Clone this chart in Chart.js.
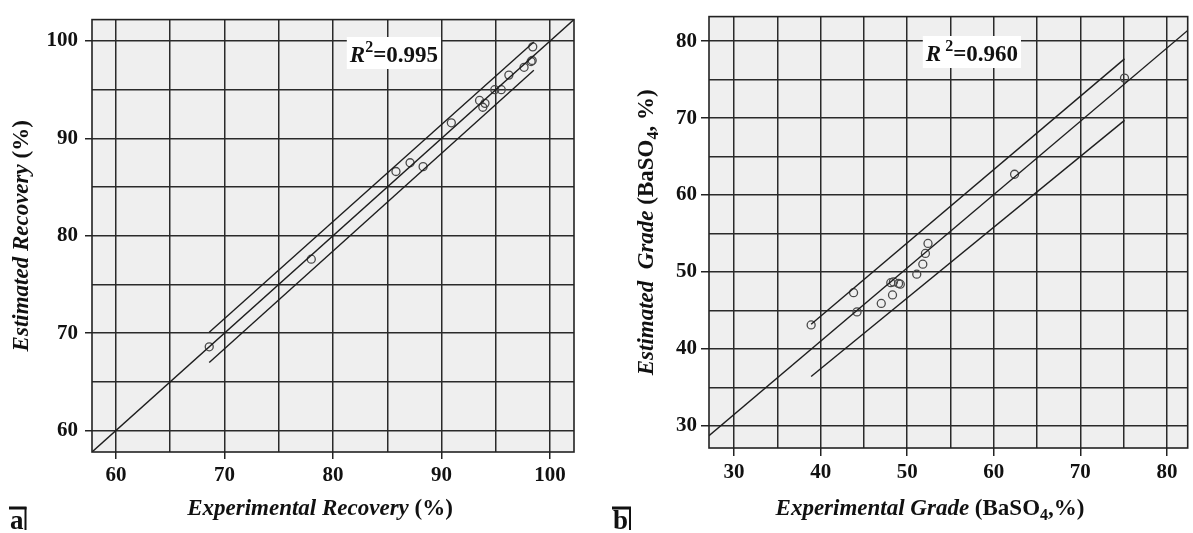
<!DOCTYPE html>
<html>
<head>
<meta charset="utf-8">
<script src="https://cdn.jsdelivr.net/npm/chart.js@4.4.1/dist/chart.umd.min.js"></script>
<style>
  body { margin: 0; background: #fff; }
  canvas { position: absolute; top: 0; }
  #recChart { left: 0; }
  #gradeChart { left: 596px; }
</style>
</head>
<body>
<canvas id="recChart" width="596" height="533"></canvas>
<canvas id="gradeChart" width="597" height="533"></canvas>
<script>
// (a) recovery
const recExp = [68.6, 78.0, 85.8, 87.1, 88.3, 90.9, 93.5, 94.0, 93.8, 94.9, 95.5, 96.2, 97.6, 98.25, 98.35, 98.4];
const recEst = [68.6, 77.6, 86.6, 87.5, 87.1, 91.6, 93.9, 93.6, 93.2, 95.0, 95.0, 96.5, 97.3, 97.9, 98.0, 99.4];
const recFitX = [57.8, 102.2];
const recFitY = [57.8, 102.2];
const recBandX = [68.6, 98.5];
const recUpper = [70.1, 99.9];
const recLower = [67.0, 97.0];

// (b) grade
const gradeExp = [38.9, 43.8, 44.2, 47.0, 48.3, 48.1, 48.4, 49.0, 49.2, 51.1, 51.8, 52.1, 52.4, 62.4, 75.1];
const gradeEst = [43.1, 47.3, 44.8, 45.9, 47.0, 48.6, 48.7, 48.5, 48.4, 49.7, 51.0, 52.4, 53.7, 62.7, 75.2];
const gradeFitX = [27.1, 82.4];
const gradeFitY = [28.7, 81.4];
const gradeBandX = [38.9, 75.1];
const gradeUpper = [43.2, 77.7];
const gradeLower = [36.4, 69.7];

const SERIF = '"Liberation Serif", "Times New Roman", serif';
const IT = "italic bold 23px " + SERIF;
const BD = "bold 23px " + SERIF;
const SUB = "bold 16px " + SERIF;

const pts = (xs, ys) => xs.map((x, i) => ({ x: x, y: ys[i] }));

function richWidth(ctx, parts) {
  let w = 0;
  parts.forEach((p) => { ctx.font = p.f; w += ctx.measureText(p.t).width; });
  return w;
}
function drawRich(ctx, parts, x, y, center) {
  if (center) x -= richWidth(ctx, parts) / 2;
  ctx.textAlign = "left";
  ctx.textBaseline = "alphabetic";
  parts.forEach((p) => {
    ctx.font = p.f;
    ctx.fillText(p.t, x, y + (p.dy || 0));
    x += ctx.measureText(p.t).width;
  });
}

const decor = {
  id: "decor",
  beforeDraw(chart) {
    const { ctx, chartArea: a } = chart;
    ctx.save();
    ctx.fillStyle = "#efefef";
    ctx.fillRect(a.left, a.top, a.right - a.left, a.bottom - a.top);
    ctx.restore();
  },
  afterDraw(chart, args, o) {
    const { ctx, chartArea: a } = chart;
    ctx.save();
    ctx.strokeStyle = "#222";
    ctx.lineWidth = 1.6;
    ctx.strokeRect(a.left, a.top, a.right - a.left, a.bottom - a.top);
    ctx.fillStyle = "#111";
    // x title
    drawRich(ctx, o.xTitle, o.xTitleX, o.xTitleY, true);
    // y title
    ctx.save();
    ctx.translate(o.yTitleX, (a.top + a.bottom) / 2);
    ctx.rotate(-Math.PI / 2);
    drawRich(ctx, o.yTitle, 0, 0, true);
    ctx.restore();
    // R2 box
    const w = richWidth(ctx, o.r2);
    const x0 = o.r2Right - w;
    ctx.fillStyle = "#fff";
    ctx.fillRect(x0 - 3, o.r2Y - 25, w + 6, 32);
    ctx.fillStyle = "#111";
    drawRich(ctx, o.r2, x0, o.r2Y, false);
    // panel letter
    ctx.font = "bold 27px " + SERIF;
    ctx.fillText(o.letter, o.letterX, 529);
    const lw = ctx.measureText(o.letter).width;
    ctx.strokeStyle = "#111";
    ctx.lineWidth = 3;
    ctx.beginPath();
    ctx.moveTo(o.letterX - 1, 508);
    ctx.lineTo(o.letterX + lw + 3, 508);
    ctx.stroke();
    ctx.lineWidth = 2;
    ctx.beginPath();
    ctx.moveTo(o.letterX + lw + 2, 507);
    ctx.lineTo(o.letterX + lw + 2, 530);
    ctx.stroke();
    ctx.restore();
  },
};

function axis(min, max, tickLen, pad, size, isY) {
  return {
    type: "linear",
    min: min,
    max: max,
    border: { display: false },
    grid: {
      color: "#2a2a2a",
      lineWidth: 1.5,
      tickLength: tickLen,
      tickColor: (c) => (c.tick && c.tick.value % 10 === 0 ? "#222" : "rgba(0,0,0,0)"),
    },
    ticks: {
      stepSize: 5,
      includeBounds: false,
      autoSkip: false,
      maxRotation: 0,
      padding: pad,
      color: "#111",
      font: { family: SERIF, size: 21, weight: "bold" },
      callback: (v) => (v % 10 === 0 ? v : ""),
    },
    afterFit: (s) => {
      if (isY) s.width = size;
      else s.height = size;
    },
  };
}

function makeChart(id, cfg) {
  const line = (xs, ys) => ({
    data: pts(xs, ys),
    showLine: true,
    borderColor: "#1e1e1e",
    borderWidth: 1.4,
    pointRadius: 0,
  });
  return new Chart(document.getElementById(id), {
    type: "scatter",
    data: {
      datasets: [
        line(cfg.fitX, cfg.fitY),
        line(cfg.bandX, cfg.upper),
        line(cfg.bandX, cfg.lower),
        {
          data: pts(cfg.xs, cfg.ys),
          showLine: false,
          pointRadius: 4,
          pointBorderWidth: 1.3,
          pointBorderColor: "#4a4a4a",
          pointBackgroundColor: "rgba(0,0,0,0)",
        },
      ],
    },
    options: {
      responsive: false,
      animation: false,
      devicePixelRatio: 1,
      layout: { padding: cfg.padding },
      plugins: {
        legend: { display: false },
        tooltip: { enabled: false },
        decor: cfg.decor,
      },
      scales: {
        x: axis(cfg.xMin, cfg.xMax, cfg.tickLen, 4, cfg.xAxisH, false),
        y: axis(cfg.yMin, cfg.yMax, cfg.tickLen, cfg.yPad, cfg.yAxisW, true),
      },
    },
    plugins: [decor],
  });
}

makeChart("recChart", {
  xs: recExp, ys: recEst,
  fitX: recFitX, fitY: recFitY,
  bandX: recBandX, upper: recUpper, lower: recLower,
  xMin: 57.8, xMax: 102.2, yMin: 57.8, yMax: 102.2,
  tickLen: 7, yPad: 7,
  xAxisH: 81, yAxisW: 92,
  padding: { top: 6, right: 22, left: 0, bottom: 0 },
  decor: {
    xTitle: [{ t: "Experimental Recovery", f: IT }, { t: " (%)", f: BD }],
    xTitleX: 320, xTitleY: 515,
    yTitle: [{ t: "Estimated Recovery", f: IT }, { t: " (%)", f: BD }],
    yTitleX: 28,
    r2: [{ t: "R", f: IT }, { t: "2", f: SUB, dy: -10 }, { t: "=0.995", f: BD }],
    r2Right: 438, r2Y: 62,
    letter: "a", letterX: 10,
  },
});

makeChart("gradeChart", {
  xs: gradeExp, ys: gradeEst,
  fitX: gradeFitX, fitY: gradeFitY,
  bandX: gradeBandX, upper: gradeUpper, lower: gradeLower,
  xMin: 27.1, xMax: 82.4, yMin: 27.1, yMax: 83.2,
  tickLen: 8, yPad: 4,
  xAxisH: 85, yAxisW: 113,
  padding: { top: 7, right: 3, left: 0, bottom: 0 },
  decor: {
    xTitle: [
      { t: "Experimental Grade", f: IT },
      { t: " (BaSO", f: BD },
      { t: "4", f: SUB, dy: 5 },
      { t: ",%)", f: BD },
    ],
    xTitleX: 334, xTitleY: 515,
    yTitle: [
      { t: "Estimated  Grade", f: IT },
      { t: " (BaSO", f: BD },
      { t: "4", f: SUB, dy: 5 },
      { t: ", %)", f: BD },
    ],
    yTitleX: 57,
    r2: [{ t: "R", f: IT }, { t: " 2", f: SUB, dy: -10 }, { t: "=0.960", f: BD }],
    r2Right: 422, r2Y: 61,
    letter: "b", letterX: 17,
  },
});
</script>
</body>
</html>
